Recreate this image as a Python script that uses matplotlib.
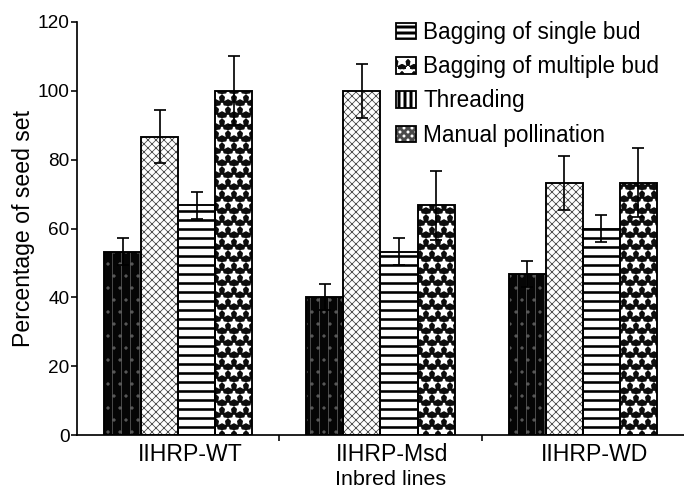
import matplotlib
matplotlib.use("Agg")
import matplotlib.pyplot as plt
import matplotlib.transforms as mtransforms
from matplotlib.patches import Patch
import numpy as np

DPI = 216
def pt(px):
    return px * 72.0 / DPI

plt.rcParams['font.family'] = ['Liberation Sans', 'DejaVu Sans']

groups = ["IIHRP-WT", "IIHRP-Msd", "IIHRP-WD"]
series = ["Threading", "Manual pollination", "Bagging of single bud", "Bagging of multiple bud"]
values = {
    "Threading": [53.3, 40.0, 46.7],
    "Manual pollination": [86.7, 100.0, 73.3],
    "Bagging of single bud": [66.7, 53.3, 60.0],
    "Bagging of multiple bud": [100.0, 66.7, 73.3],
}
errors = {
    "Threading": [3.8, 3.8, 3.8],
    "Manual pollination": [7.8, 7.8, 7.8],
    "Bagging of single bud": [3.8, 3.8, 3.8],
    "Bagging of multiple bud": [10.0, 10.0, 10.0],
}
legend_order = ["Bagging of single bud", "Bagging of multiple bud", "Threading", "Manual pollination"]
yticks = [0, 20, 40, 60, 80, 100, 120]

styles = {
    "Threading": dict(face="#050505", hatch="||||...", hcolor="#5a5a5a", hlw=0.8),
    "Manual pollination": dict(face="white", hatch="xxxxxxxxx", hcolor="#4a4a4a", hlw=0.8),
    "Bagging of single bud": dict(face="white", hatch="----", hcolor="black", hlw=2.6),
    "Bagging of multiple bud": dict(face="#0d0d0d", hatch="***", hcolor="white", hlw=2.0),
}

fig = plt.figure(figsize=(684 / DPI, 490 / DPI), dpi=DPI)
ax = fig.add_axes([77/684, 55/490, 607/684, 413/490])

x = np.arange(len(groups))
w = 0.183
for i, s in enumerate(series):
    pos = x + (i - 1.5) * w
    st = styles[s]
    with plt.rc_context({'hatch.linewidth': pt(st["hlw"])}):
        ax.bar(pos, values[s], w, color=st["face"], edgecolor=st["hcolor"],
               hatch=st["hatch"], linewidth=0, zorder=2)
    ax.bar(pos, values[s], w, fill=False, edgecolor="black", linewidth=pt(1.9), zorder=3)
    ax.errorbar(pos, values[s], yerr=errors[s], fmt="none", ecolor="black",
                elinewidth=pt(1.7), capsize=pt(6.5), capthick=pt(1.7), zorder=4)

ax.set_xlim(-0.5, 2.5)
ax.set_ylim(0, 120)
ax.set_yticks(yticks)
ax.tick_params(axis="y", labelsize=pt(19), length=pt(6), width=pt(1.6), direction="out", pad=pt(1.5))
ax.set_xticks(x)
ax.set_xticklabels(groups, fontsize=pt(23))
ax.tick_params(axis="x", which="major", length=0, pad=pt(8))
ax.set_xticks([0.5, 1.5], minor=True)
ax.tick_params(axis="x", which="minor", length=pt(6), width=pt(1.6), direction="out")
offset = mtransforms.ScaledTranslation(12 / DPI, 0, fig.dpi_scale_trans)
for lab in ax.get_xticklabels():
    lab.set_transform(lab.get_transform() + offset)

for sp in ["top", "right"]:
    ax.spines[sp].set_visible(False)
for sp in ["left", "bottom"]:
    ax.spines[sp].set_linewidth(pt(1.7))

ax.set_ylabel("Percentage of seed set", fontsize=pt(23), labelpad=pt(3))
ax.set_xlabel("Inbred lines", fontsize=pt(21.5), labelpad=pt(4))
ax.xaxis.label.set_transform(ax.xaxis.label.get_transform() + mtransforms.ScaledTranslation(10 / DPI, 0, fig.dpi_scale_trans))

leg_styles = {
    "Bagging of single bud": dict(face="white", hatch="------", hcolor="black", hlw=2.0),
    "Bagging of multiple bud": dict(face="#0d0d0d", hatch="***", hcolor="white", hlw=2.0),
    "Threading": dict(face="white", hatch="||||||", hcolor="black", hlw=2.0),
    "Manual pollination": dict(face="white", hatch="xxxxxxxxx", hcolor="#4a4a4a", hlw=0.8),
}
handles = []
for s in legend_order:
    ls = leg_styles[s]
    with plt.rc_context({'hatch.linewidth': pt(ls["hlw"])}):
        p1 = Patch(facecolor=ls["face"], edgecolor=ls["hcolor"], hatch=ls["hatch"], linewidth=0)
    p2 = Patch(fill=False, edgecolor="black", linewidth=pt(1.8))
    handles.append((p1, p2))
ax.legend(handles=handles, labels=legend_order, loc="upper left",
          bbox_to_anchor=((396 - 77) / 607, (490 - 55 - 21) / 413),
          frameon=False, fontsize=pt(22.5), handlelength=0.9, handleheight=0.75,
          handletextpad=0.3, labelspacing=0.5, borderaxespad=0, borderpad=0)

fig.savefig("out.png", dpi=DPI)
